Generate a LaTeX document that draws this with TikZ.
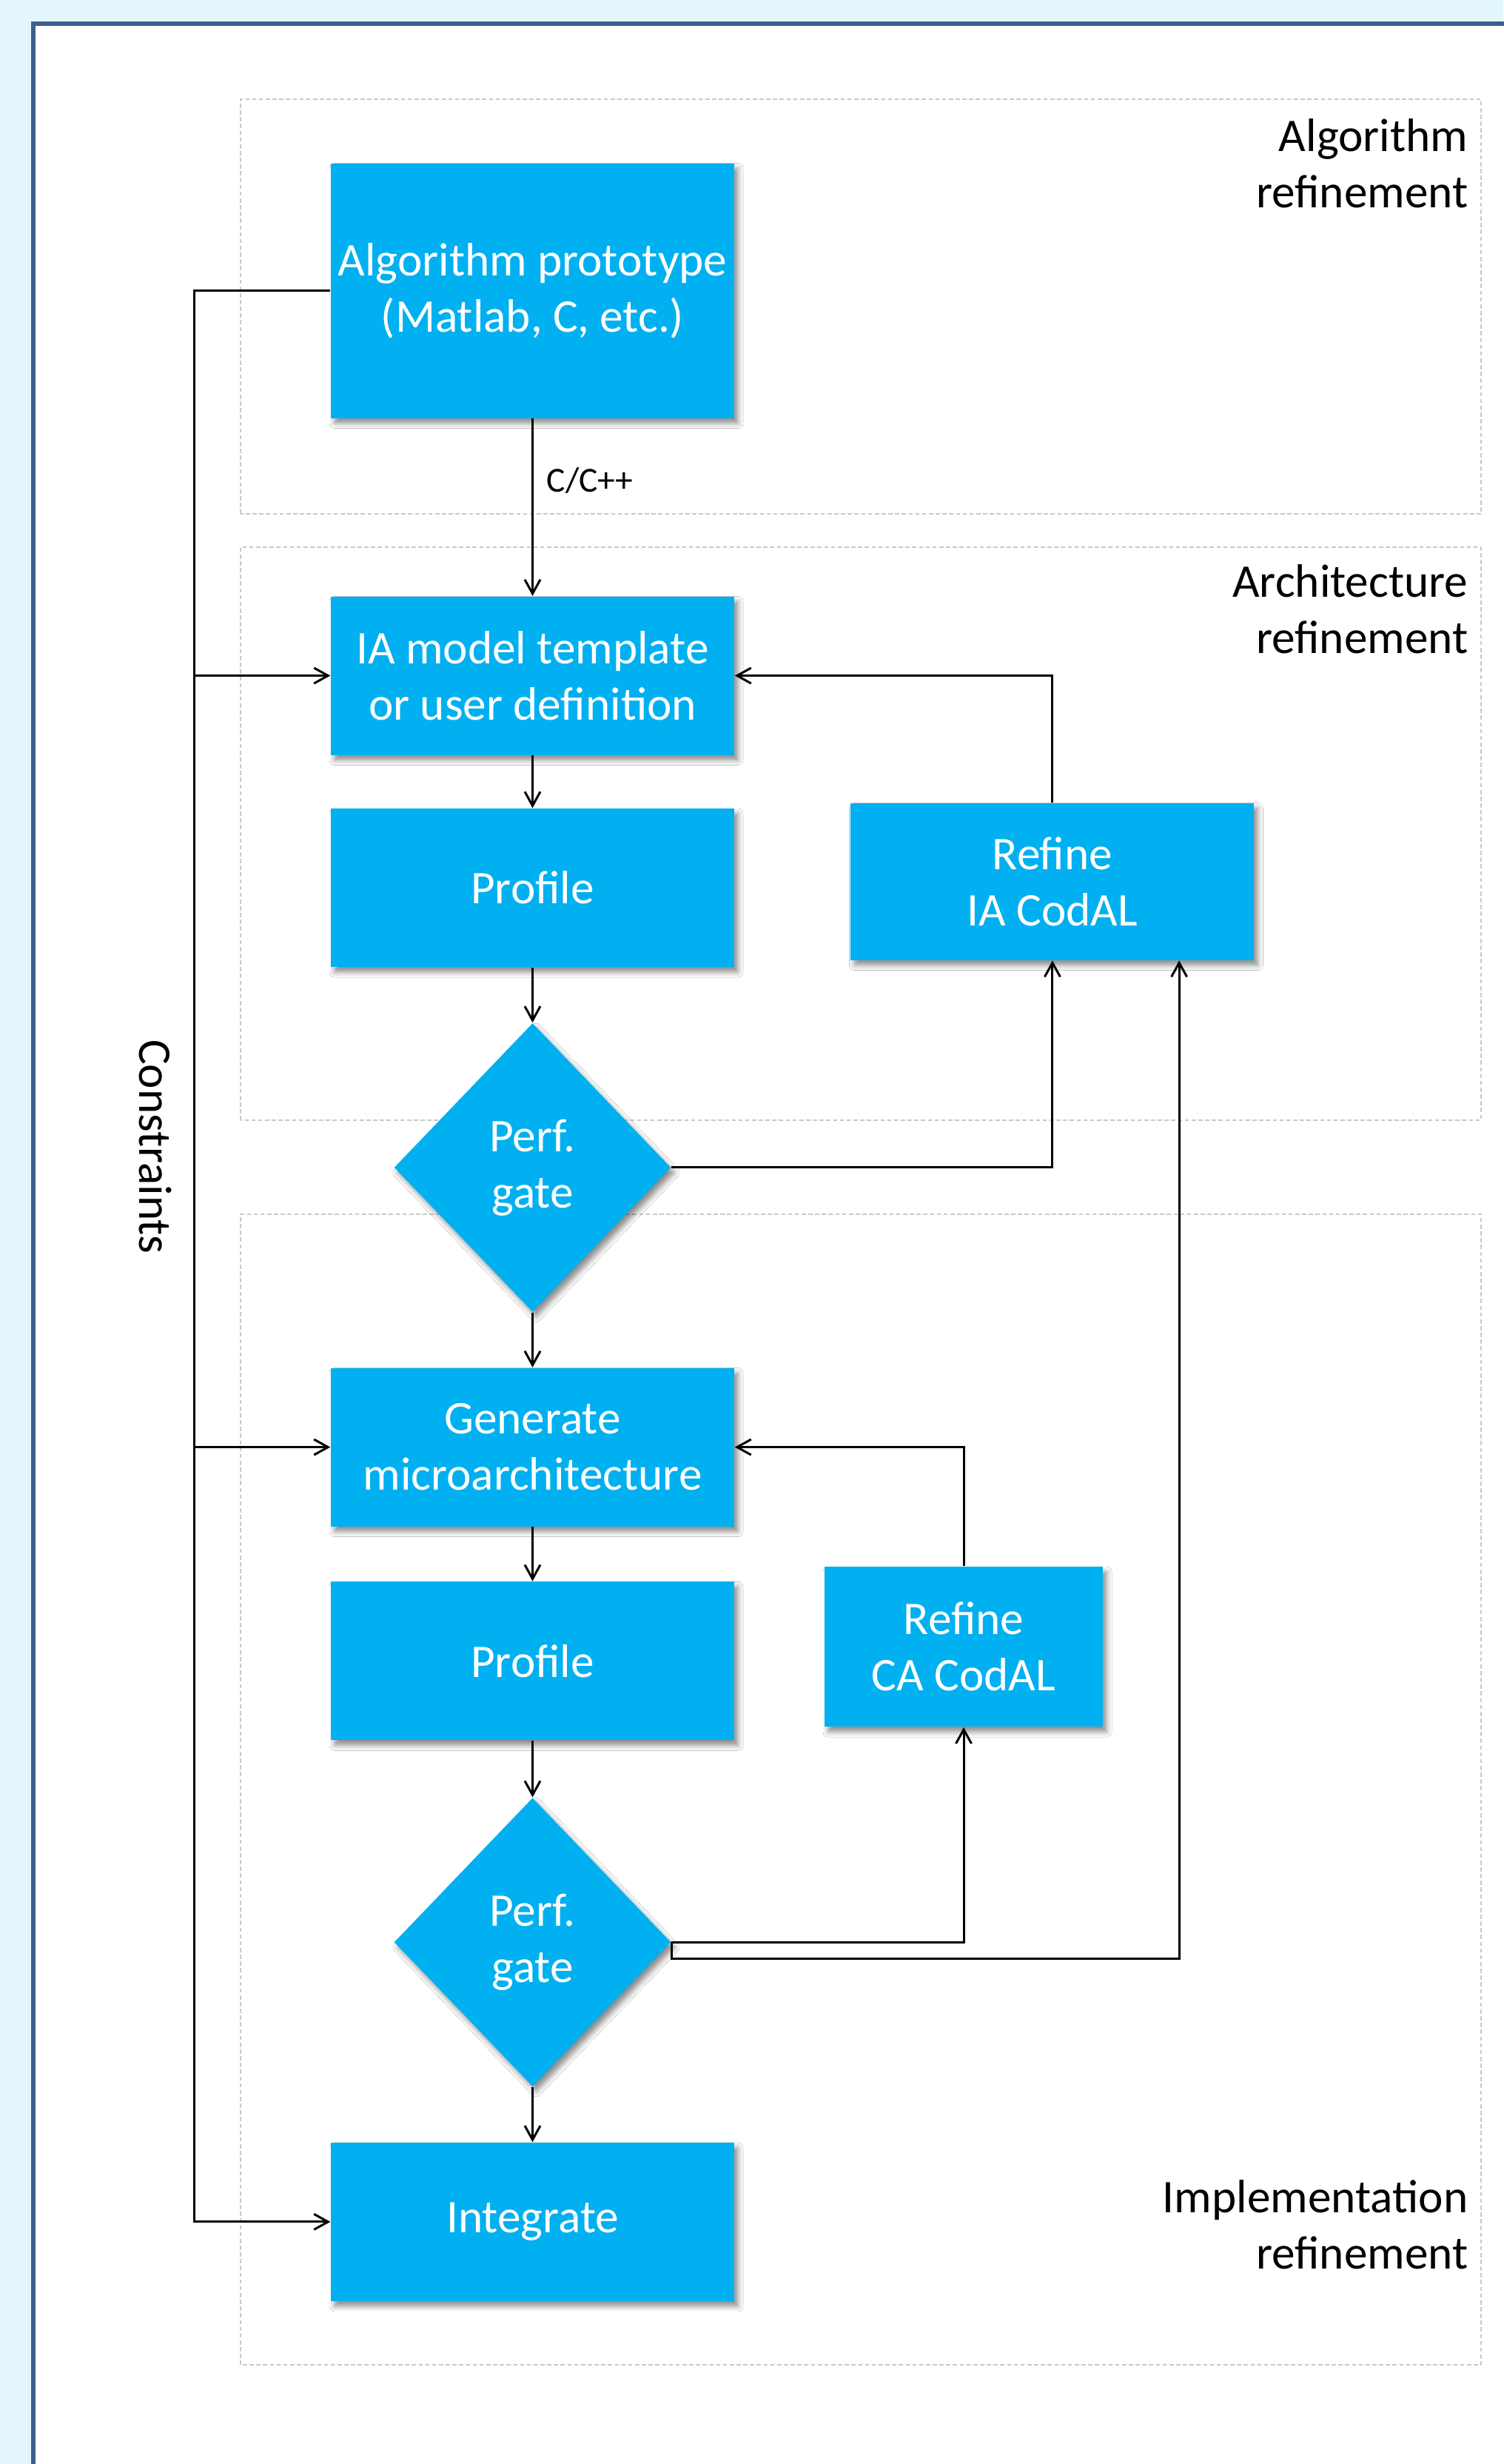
\documentclass[tikz,border=0pt]{standalone}
\usepackage{fontspec}
\setmainfont{Carlito}
\usepackage{tikz}
\usetikzlibrary{arrows.meta,calc,shapes.geometric,shadows.blur}
\definecolor{StepFill}{HTML}{00B0F0}
\definecolor{PageBg}{HTML}{E3F6FD}
\definecolor{FrameInk}{HTML}{3D5F8D}
\definecolor{ZoneInk}{HTML}{C8C8C8}
\tikzset{
  stepbox/.style={rectangle, fill=StepFill, text=white, align=center,
             font=\fontsize{18}{21.6}\selectfont, inner sep=0pt,
             minimum width=5.45cm, minimum height=2.14cm,
             blur shadow={shadow xshift=0.05cm, shadow yshift=-0.07cm,
                          shadow blur radius=0.07cm, shadow opacity=45}},
  gatebox/.style={stepbox, diamond, minimum width=3.74cm, minimum height=3.9cm},
  zone/.style={draw=ZoneInk, line width=0.5pt, dash pattern=on 1.6pt off 1pt},
  zlabel/.style={font=\fontsize{18}{21.6}\selectfont, align=right, anchor=east, inner sep=0pt},
  flow/.style={-{Straight Barb[length=1.9mm, width=2.1mm]}, line width=0.85pt, draw=black},
}

\begin{document}
\begin{tikzpicture}
\useasboundingbox (0,0) rectangle (20.31,33.28);
% ---------- page and frame
\fill[PageBg] (0,0) rectangle (20.31,33.28);
\draw[FrameInk, line width=1.5pt, fill=white] (0.45,-1) rectangle (21,32.96);
% ---------- refinement zones
\draw[zone] (3.25,26.34) rectangle (20.01,31.94);
\draw[zone] (3.25,18.15) rectangle (20.01,25.89);
\draw[zone] (3.25,1.34) rectangle (20.01,16.88);
\node[zlabel] (zalg) at (19.84,31.07) {Algorithm\\refinement};
\node[zlabel] (zarch) at (19.84,25.05) {Architecture\\refinement};
\node[zlabel] (zimpl) at (19.84,3.23) {Implementation\\refinement};
% ---------- flow steps
\node[stepbox, minimum height=3.44cm] (algo) at (7.195,29.354) {Algorithm prototype\\(Matlab, C, etc.)};
\node[stepbox] (ia) at (7.195,24.154) {IA model template\\or user definition};
\node[stepbox] (prof1) at (7.195,21.289) {Profile};
\node[stepbox, minimum height=2.12cm] (refia) at (14.219,21.374) {Refine\\IA CodAL};
\node[gatebox] (gate1) at (7.195,17.511) {Perf.\\gate};
\node[stepbox] (gen) at (7.195,13.734) {Generate\\microarchitecture};
\node[stepbox] (prof2) at (7.195,10.847) {Profile};
\node[stepbox, minimum width=3.76cm, minimum height=2.16cm] (refca) at (13.02,11.038) {Refine\\CA CodAL};
\node[gatebox] (gate2) at (7.195,7.048) {Perf.\\gate};
\node[stepbox] (integ) at (7.195,3.271) {Integrate};
% ---------- main chain
\draw[flow] (algo) -- node[pos=0.35, right, xshift=0.06cm, font=\fontsize{13.5}{16}\selectfont] (lang) {C/C++} (ia);
\draw[flow] (ia) -- (prof1);
\draw[flow] (prof1) -- (gate1);
\draw[flow] (gate1) -- (gen);
\draw[flow] (gen) -- (prof2);
\draw[flow] (prof2) -- (gate2);
\draw[flow] (gate2) -- (integ);
% ---------- refinement loops
\draw[flow] (gate1.east) -| (refia.south);
\draw[flow] (refia.north) |- (ia.east);
\draw[flow] (gate2.east) -| (refca.south);
\draw[flow] (refca.north) |- (gen.east);
\draw[flow] (gate2.east) -- ++(0,-0.22) -| ([xshift=-1.02cm]refia.south east);
% ---------- constraints rail
\path (algo.west) ++(-1.836,0) coordinate (rail);
\draw[flow] (algo.west) -- (rail) |- (integ.west);
\draw[flow] (rail |- ia.west) -- (ia.west);
\draw[flow] (rail |- gen.west) -- (gen.west);
\node[rotate=-90, font=\fontsize{18}{21.6}\selectfont] (cons) at (2.1,17.79) {Constraints};
\end{tikzpicture}
\end{document}
